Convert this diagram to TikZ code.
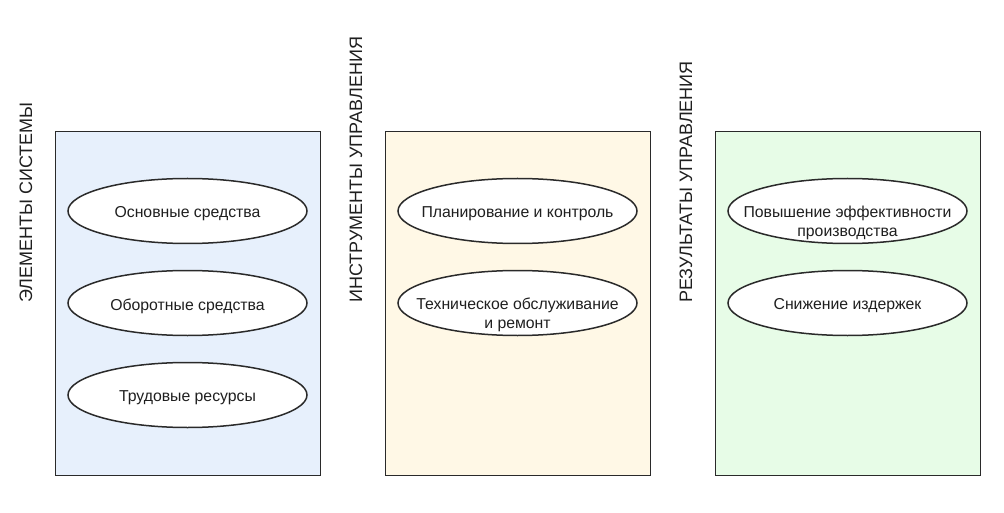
\documentclass[tikz,border=0pt]{standalone}
\usepackage{fontspec}
\setmainfont{Liberation Sans}
\usetikzlibrary{shapes.geometric}
\definecolor{fillA}{HTML}{E7F0FC}
\definecolor{fillB}{HTML}{FFF8E6}
\definecolor{fillC}{HTML}{E7FCE7}
\definecolor{edge}{HTML}{2A2A2A}
\tikzset{
  panel/.style={draw=edge, line width=1.3pt, rectangle, anchor=north west, inner sep=0pt},
  oval/.style={draw=edge, line width=1.5pt, fill=white, ellipse, inner sep=0pt, minimum width=239pt, minimum height=65pt},
  otext/.style={font=\fontsize{15.8}{19}\selectfont, align=center, inner sep=0pt, text=black!88},
  vlabel/.style={font=\fontsize{18}{20}\selectfont, rotate=90, anchor=base west, inner sep=0pt, text=black!88}
}
\begin{document}
\begin{tikzpicture}[x=1pt, y=-1pt]
\useasboundingbox (0,0) rectangle (1004,513);
% panels
\node[panel, fill=fillA, minimum width=265pt, minimum height=344pt] (p1) at (55,131) {};
\node[panel, fill=fillB, minimum width=265pt, minimum height=344pt] (p2) at (385,131) {};
\node[panel, fill=fillC, minimum width=265pt, minimum height=344pt] (p3) at (715,131) {};
% vertical labels
\node[vlabel] (l1) at (32,303) {ЭЛЕМЕНТЫ СИСТЕМЫ};
\node[vlabel] (l2) at (362,303) {ИНСТРУМЕНТЫ УПРАВЛЕНИЯ};
\node[vlabel] (l3) at (692,303) {РЕЗУЛЬТАТЫ УПРАВЛЕНИЯ};
% ellipses panel 1
\node[oval] (a1) at (187.5,211) {};
\node[otext] (a1t) at ([yshift=-3pt]a1.center) {Основные средства};
\node[oval] (a2) at (187.5,303) {};
\node[otext] (a2t) at ([yshift=-3pt]a2.center) {Оборотные средства};
\node[oval] (a3) at (187.5,395) {};
\node[otext] (a3t) at ([yshift=-3pt]a3.center) {Трудовые ресурсы};
% ellipses panel 2
\node[oval] (b1) at (517.5,211) {};
\node[otext] (b1t) at ([yshift=-3pt]b1.center) {Планирование и контроль};
\node[oval] (b2) at (517.5,303) {};
\node[otext] (b2t) at ([yshift=-12pt]b2.center) {Техническое обслуживание\\и ремонт};
% ellipses panel 3
\node[oval] (c1) at (847.5,211) {};
\node[otext] (c1t) at ([yshift=-12pt]c1.center) {Повышение эффективности\\производства};
\node[oval] (c2) at (847.5,303) {};
\node[otext] (c2t) at ([yshift=-3pt]c2.center) {Снижение издержек};
\end{tikzpicture}
\end{document}
